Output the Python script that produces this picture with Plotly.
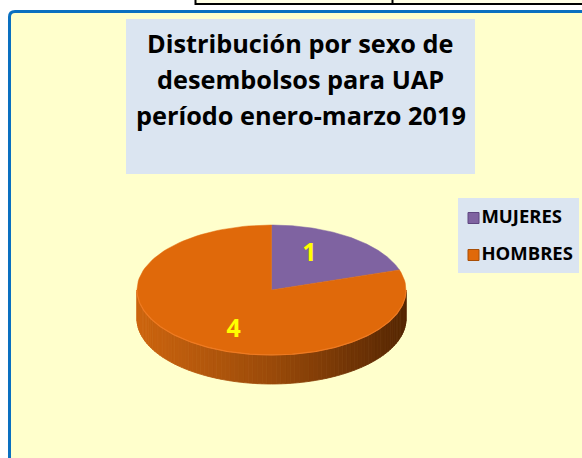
import numpy as np
import plotly.graph_objects as go

# ---- data ----
categories = ["MUJERES", "HOMBRES"]
values = [1, 4]
colors = ["#7F63A1", "#E0690A"]
title_lines = ["Distribución por sexo de", "desembolsos para UAP", "período enero-marzo 2019"]

# ---- geometry / style (pixel space) ----
W, H = 582, 458
CX, CY, RX, RY, DEPTH = 271.5, 290.0, 134.5, 65.0, 29.0
FONT = "Open Sans"
LABEL_DY = 3.0


def ell(theta_deg, dy=0.0):
    t = np.radians(theta_deg)
    return CX + RX * np.sin(t), CY - RY * np.cos(t) + dy


def mix(c1, c2, f):
    a = [int(c1[i:i + 2], 16) for i in (1, 3, 5)]
    b = [int(c2[i:i + 2], 16) for i in (1, 3, 5)]
    return "#%02x%02x%02x" % tuple(int(round(a[k] + (b[k] - a[k]) * f)) for k in range(3))


fig = go.Figure()

# side wall of the disc (front half, orange slice) with horizontal gradient
n_strips = 90
ths = np.linspace(90, 270, n_strips + 1)
for i in range(n_strips):
    arc = np.linspace(ths[i], ths[i + 1], 4)
    xt, yt = ell(arc)
    xb, yb = ell(arc[::-1], DEPTH)
    xs = np.concatenate([xt, xb, xt[:1]])
    ys = np.concatenate([yt, yb, yt[:1]])
    xm = np.mean(xt)
    f = (xm - (CX - RX)) / (2 * RX)
    if f < 0.5:
        col = mix("#CD650F", "#9A4A09", f / 0.5)
    else:
        col = mix("#9A4A09", "#552603", (f - 0.5) / 0.5)
    fig.add_trace(go.Scatter(x=xs, y=ys, mode="lines", fill="toself", fillcolor=col,
                             line=dict(color=col, width=0.8), hoverinfo="skip", showlegend=False))

# top faces of the slices
total = sum(values)
start = 0.0
mids = []
for cat, v, c in zip(categories, values, colors):
    a0 = start
    a1 = start + 360.0 * v / total
    arc = np.linspace(a0, a1, 120)
    xa, ya = ell(arc)
    xs = np.concatenate([[CX], xa, [CX]])
    ys = np.concatenate([[CY], ya, [CY]])
    fig.add_trace(go.Scatter(x=xs, y=ys, mode="lines", fill="toself", fillcolor=c,
                             line=dict(color=c, width=0.5), name=cat, showlegend=False,
                             hoverinfo="name"))
    mids.append((a0 + a1) / 2)
    start = a1

# rim highlight on the front edge
xr, yr = ell(np.linspace(90, 270, 200))
fig.add_trace(go.Scatter(x=xr, y=yr, mode="lines", line=dict(color="#EE7A22", width=1.2),
                         hoverinfo="skip", showlegend=False))

# data labels
lx = [CX + 0.48 * RX * np.sin(np.radians(m)) for m in mids]
ly = [CY - 0.72 * RY * np.cos(np.radians(m)) + LABEL_DY for m in mids]
fig.add_trace(go.Scatter(x=lx, y=ly, mode="text", text=[str(v) for v in values],
                         textfont=dict(family=FONT, size=25, color="#FFFF00", weight="bold"),
                         hoverinfo="skip", showlegend=False))

# legend (manual, drawn in the chart space)
leg_y = [218, 255]
fig.add_trace(go.Scatter(x=[473.5, 473.5], y=leg_y, mode="markers+text",
                         marker=dict(symbol="square", size=11, color=colors,
                                     line=dict(color=["#5E4680", "#A84E06"], width=1)),
                         text=categories, textposition="middle right",
                         textfont=dict(family=FONT, size=18.5, color="#000000", weight="bold"),
                         hoverinfo="skip", showlegend=False))

shapes = [
    # top table fragment
    dict(type="rect", x0=195.5, x1=600, y0=-10, y1=4, fillcolor="#FFFFE6",
         line=dict(color="#000000", width=2), layer="below"),
    dict(type="line", x0=392.5, x1=392.5, y0=-10, y1=4, line=dict(color="#000000", width=2), layer="below"),
    # chart frame
    dict(type="path", path="M 9.5 470 L 9.5 17 Q 9.5 11.5 15 11.5 L 600 11.5 L 600 470 Z",
         fillcolor="#FFFFCC", line=dict(color="#0A70C0", width=3), layer="below"),
    # title box
    dict(type="rect", x0=126, x1=475, y0=19, y1=174, fillcolor="#DBE5F1", line=dict(width=0), layer="below"),
    # legend box
    dict(type="rect", x0=458, x1=579, y0=198, y1=273, fillcolor="#DBE5F1", line=dict(width=0), layer="below"),
]

annotations = []
for i, t in enumerate(title_lines):
    annotations.append(dict(x=300.5, y=43 + 36 * i, xref="x", yref="y", text=t, showarrow=False,
                            xanchor="center", yanchor="middle",
                            font=dict(family=FONT, size=25.3, color="#000000", weight="bold")))

fig.update_layout(
    width=W, height=H, margin=dict(l=0, r=0, t=0, b=0),
    paper_bgcolor="#FFFFFF", plot_bgcolor="#FFFFFF",
    xaxis=dict(range=[0, W], visible=False, fixedrange=True),
    yaxis=dict(range=[H, 0], visible=False, fixedrange=True),
    shapes=shapes, annotations=annotations, showlegend=False,
)

fig.write_html("out.html", config={"displayModeBar": False},
               post_script="document.body.style.margin='0';")
